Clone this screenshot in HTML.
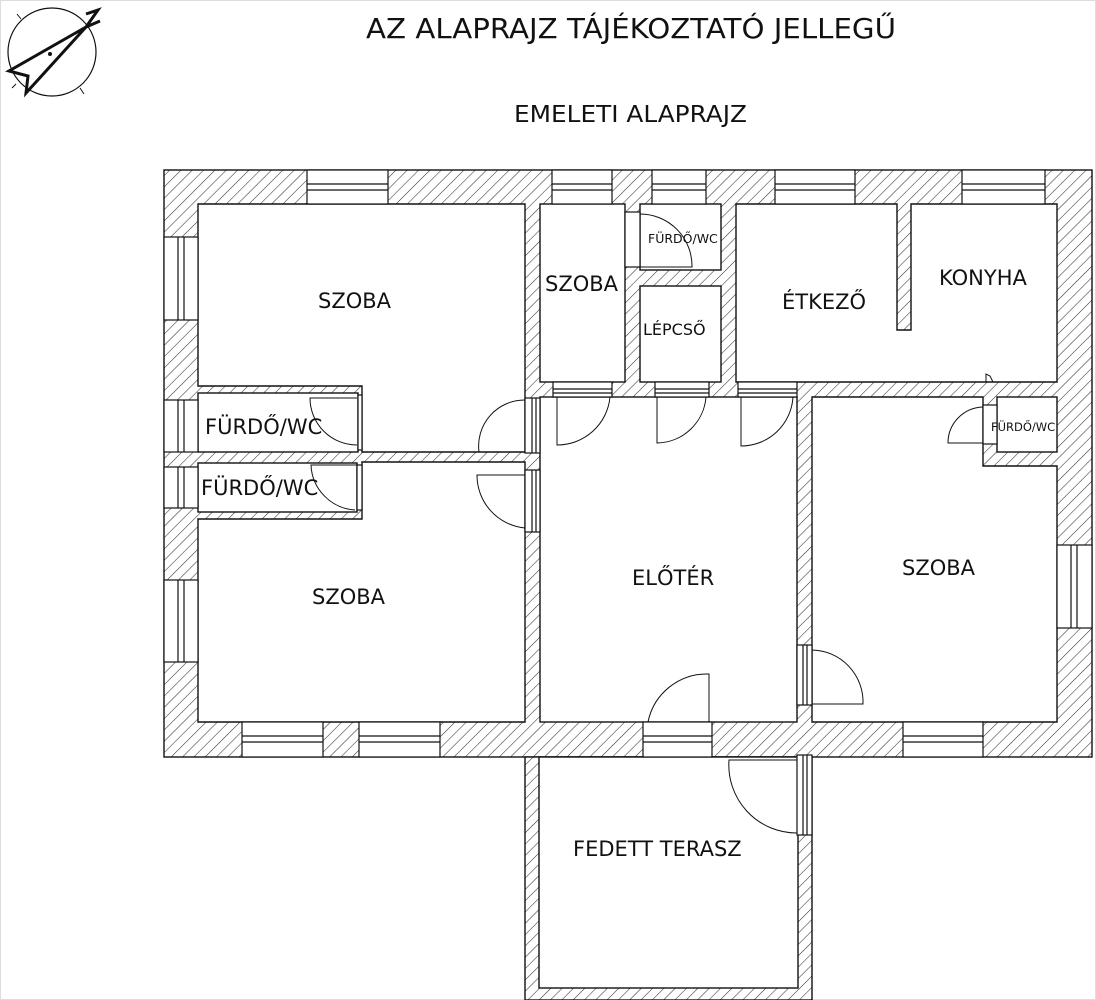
<!DOCTYPE html>
<html><head><meta charset="utf-8"><style>
html,body{margin:0;padding:0;background:#fff}
svg{display:block}
text{font-family:"DejaVu Sans","Liberation Sans",sans-serif;fill:#111}
</style></head><body>
<svg width="1096" height="1000" viewBox="0 0 1096 1000" xmlns="http://www.w3.org/2000/svg">
<defs>
<pattern id="h" patternUnits="userSpaceOnUse" width="8" height="8" patternTransform="rotate(45)">
<rect width="8" height="8" fill="#fff"/>
<line x1="0" y1="0" x2="0" y2="8" stroke="#333" stroke-width="1.1"/>
</pattern>
</defs>
<rect x="0.5" y="0.5" width="1095" height="999" fill="none" stroke="#ddd"/>
<!-- compass -->
<g stroke="#111" fill="none">
<circle cx="52" cy="52" r="44" stroke-width="1.2"/>
<line x1="17" y1="14" x2="21" y2="19"/><line x1="12" y1="88" x2="16" y2="84"/>
<line x1="80" y1="88" x2="84" y2="94"/>
<path d="M86 27 L9 71 L28 76 L26 93 Z" stroke-width="3" stroke-linejoin="miter"/>
<path d="M86 14 L98 10 L86 27 L100 21" stroke-width="3"/>
<circle cx="50" cy="54" r="1.5" fill="#111"/>
</g>
<text x="366" y="38" font-size="28" textLength="530" lengthAdjust="spacingAndGlyphs">AZ ALAPRAJZ TÁJÉKOZTATÓ JELLEGŰ</text>
<text x="514" y="122" font-size="23" textLength="233" lengthAdjust="spacingAndGlyphs">EMELETI ALAPRAJZ</text>

<!-- walls -->
<g stroke="#111" stroke-width="1.4">
<rect x="164" y="170" width="928" height="587" fill="url(#h)"/>
<rect x="525" y="757" width="287" height="243" fill="url(#h)"/>
</g>
<!-- rooms -->
<g fill="#fff" stroke="#111" stroke-width="1.4">
<path d="M198 204 H525 V452 H362 V386 H198 Z"/>
<rect x="198" y="393" width="160" height="59"/>
<rect x="198" y="463" width="159" height="49"/>
<path d="M198 519 H362 V462 H525 V722 H198 Z"/>
<rect x="540" y="204" width="85" height="178"/>
<rect x="640" y="204" width="81" height="66"/>
<rect x="640" y="286" width="81" height="96"/>
<path d="M736 204 H897 V330 H911 V204 H1057 V382 H736 Z"/>
<rect x="540" y="397" width="257" height="325"/>
<path d="M812 397 H983 V466 H1057 V722 H812 Z"/>
<rect x="997" y="397" width="60" height="55"/>
<rect x="539" y="757" width="259" height="231"/>
</g>
<!-- windows / openings -->
<g fill="#fff" stroke="#111" stroke-width="1.2">
<rect x="307" y="170" width="81" height="34"/><line x1="307" y1="184" x2="388" y2="184"/><line x1="307" y1="190" x2="388" y2="190"/>
<rect x="552" y="170" width="60" height="34"/><line x1="552" y1="184" x2="612" y2="184"/><line x1="552" y1="190" x2="612" y2="190"/>
<rect x="652" y="170" width="54" height="34"/><line x1="652" y1="184" x2="706" y2="184"/><line x1="652" y1="190" x2="706" y2="190"/>
<rect x="775" y="170" width="80" height="34"/><line x1="775" y1="184" x2="855" y2="184"/><line x1="775" y1="190" x2="855" y2="190"/>
<rect x="962" y="170" width="83" height="34"/><line x1="962" y1="184" x2="1045" y2="184"/><line x1="962" y1="190" x2="1045" y2="190"/>
<rect x="164" y="237" width="34" height="83"/><line x1="178" y1="237" x2="178" y2="320"/><line x1="184" y1="237" x2="184" y2="320"/>
<rect x="164" y="400" width="34" height="52"/><line x1="178" y1="400" x2="178" y2="452"/><line x1="184" y1="400" x2="184" y2="452"/>
<rect x="164" y="467" width="34" height="41"/><line x1="178" y1="467" x2="178" y2="508"/><line x1="184" y1="467" x2="184" y2="508"/>
<rect x="164" y="580" width="34" height="82"/><line x1="178" y1="580" x2="178" y2="662"/><line x1="184" y1="580" x2="184" y2="662"/>
<rect x="242" y="722" width="81" height="35"/><line x1="242" y1="736" x2="323" y2="736"/><line x1="242" y1="742" x2="323" y2="742"/>
<rect x="359" y="722" width="81" height="35"/><line x1="359" y1="736" x2="440" y2="736"/><line x1="359" y1="742" x2="440" y2="742"/>
<rect x="903" y="722" width="80" height="35"/><line x1="903" y1="736" x2="983" y2="736"/><line x1="903" y1="742" x2="983" y2="742"/>
<rect x="1057" y="545" width="35" height="83"/><line x1="1071" y1="545" x2="1071" y2="628"/><line x1="1077" y1="545" x2="1077" y2="628"/>
<!-- door openings -->
<rect x="553" y="382" width="59" height="15"/><line x1="553" y1="389" x2="612" y2="389"/><line x1="553" y1="393" x2="612" y2="393"/>
<rect x="655" y="382" width="54" height="15"/><line x1="655" y1="389" x2="709" y2="389"/><line x1="655" y1="393" x2="709" y2="393"/>
<rect x="738" y="382" width="59" height="15"/><line x1="738" y1="389" x2="797" y2="389"/><line x1="738" y1="393" x2="797" y2="393"/>
<rect x="525" y="398" width="15" height="55"/><line x1="532" y1="398" x2="532" y2="453"/><line x1="536" y1="398" x2="536" y2="453"/>
<rect x="525" y="470" width="15" height="62"/><line x1="532" y1="470" x2="532" y2="532"/><line x1="536" y1="470" x2="536" y2="532"/>
<rect x="358" y="395" width="4" height="55"/>
<rect x="357" y="465" width="5" height="45"/>
<rect x="625" y="212" width="15" height="55"/>
<rect x="983" y="405" width="14" height="39"/>
<rect x="643" y="722" width="69" height="35"/><line x1="643" y1="736" x2="712" y2="736"/><line x1="643" y1="742" x2="712" y2="742"/>
<rect x="797" y="645" width="15" height="60"/><line x1="803" y1="645" x2="803" y2="705"/><line x1="807" y1="645" x2="807" y2="705"/>
<rect x="797" y="755" width="15" height="80"/><line x1="803" y1="755" x2="803" y2="835"/><line x1="807" y1="755" x2="807" y2="835"/>
</g>
<!-- door swings -->
<g fill="none" stroke="#111" stroke-width="1">
<path d="M557 397 V445 A53 53 0 0 0 610 397"/>
<path d="M657 397 V443 A50 50 0 0 0 706 397"/>
<path d="M741 397 V446 A52 52 0 0 0 793 397"/>
<path d="M525 452 H479 A46 46 0 0 1 525 400"/>
<path d="M525 475 H477 A53 53 0 0 0 525 528"/>
<path d="M357 398 H310 A47 47 0 0 0 357 445"/>
<path d="M357 465 H311 A47 47 0 0 0 355 510"/>
<path d="M640 214 V267 M640 214 A52 52 0 0 1 692 267 H640"/>
<path d="M983 407 A36 36 0 0 0 948 443 H983"/>
<path d="M709 722 V674 A60 60 0 0 0 648 722"/>
<path d="M812 650 A52 52 0 0 1 863 704 H812"/>
<path d="M797 760 H729 A68 68 0 0 0 797 833"/>
<path d="M986 382 V374 L990 376 L993 382"/>
</g>
<!-- labels -->
<g font-size="21">
<text x="318" y="308">SZOBA</text>
<text x="545" y="291">SZOBA</text>
<text x="312" y="604">SZOBA</text>
<text x="902" y="575">SZOBA</text>
<text x="782" y="309">ÉTKEZŐ</text>
<text x="939" y="285">KONYHA</text>
<text x="632" y="585">ELŐTÉR</text>
<text x="573" y="856">FEDETT TERASZ</text>
<text x="205" y="434">FÜRDŐ/WC</text>
<text x="201" y="495">FÜRDŐ/WC</text>
</g>
<text x="643" y="335" font-size="16">LÉPCSŐ</text>
<text x="648" y="243" font-size="12.5">FÜRDŐ/WC</text>
<text x="991" y="431" font-size="11.5">FÜRDŐ/WC</text>
</svg>
</body></html>
